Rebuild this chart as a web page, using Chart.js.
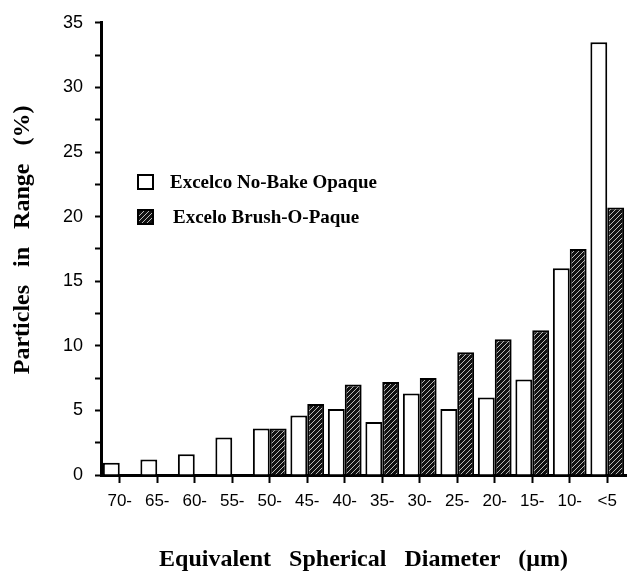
<!DOCTYPE html>
<html>
<head>
<meta charset="utf-8">
<script src="https://cdn.jsdelivr.net/npm/chart.js@4"></script>
<style>
  html, body { margin: 0; padding: 0; background: #fff; }
  #wrap { width: 627px; height: 575px; }
</style>
</head>
<body>
<div id="wrap"><canvas id="sizeChart" width="627" height="575"></canvas></div>
<script>
// size ranges (um), largest first
const categories = ['70-', '65-', '60-', '55-', '50-', '45-', '40-', '35-', '30-', '25-', '20-', '15-', '10-', '<5'];
// particles in range (%)
const noBakeOpaque = [0.95, 1.2, 1.6, 2.9, 3.6, 4.6, 5.1, 4.1, 6.3, 5.1, 6.0, 7.4, 16.0, 33.5];
const brushOPaque = [null, null, null, null, 3.6, 5.5, 7.0, 7.2, 7.5, 9.5, 10.5, 11.2, 17.5, 20.7];
const yTicks = [0, 5, 10, 15, 20, 25, 30, 35];

const serif = '"Liberation Serif", "Times New Roman", serif';
const sans = '"Liberation Sans", Arial, sans-serif';

// black fill with thin light diagonal hatch
function hatch() {
  const c = document.createElement('canvas');
  c.width = 5; c.height = 5;
  const g = c.getContext('2d');
  g.fillStyle = '#111';
  g.fillRect(0, 0, 5, 5);
  g.strokeStyle = '#cfcfcf';
  g.lineWidth = 0.9;
  g.beginPath();
  g.moveTo(-1, 6); g.lineTo(6, -1);
  g.stroke();
  return g.createPattern(c, 'repeat');
}
const hatchFill = hatch();

// legend sitting inside the plot
const boxLegend = {
  id: 'boxLegend',
  afterDraw(chart) {
    const ctx = chart.ctx;
    const rows = [
      { x: 138, y: 175, tx: 170 },
      { x: 138, y: 210, tx: 173 }
    ];
    ctx.save();
    chart.data.datasets.forEach((ds, i) => {
      const r = rows[i];
      ctx.fillStyle = ds.backgroundColor;
      ctx.fillRect(r.x, r.y, 15, 14);
      ctx.lineWidth = 2;
      ctx.strokeStyle = '#000';
      ctx.strokeRect(r.x, r.y, 15, 14);
      ctx.fillStyle = '#000';
      ctx.font = 'bold 19px ' + serif;
      ctx.textBaseline = 'middle';
      ctx.fillText(ds.label, r.tx, r.y + 8);
    });
    ctx.restore();
  }
};

new Chart(document.getElementById('sizeChart'), {
  type: 'bar',
  data: {
    labels: categories,
    datasets: [{
      label: 'Excelco No-Bake Opaque',
      data: noBakeOpaque,
      backgroundColor: '#ffffff',
      borderColor: '#000',
      borderWidth: 2
    }, {
      label: 'Excelo Brush-O-Paque',
      data: brushOPaque,
      backgroundColor: hatchFill,
      borderColor: '#000',
      borderWidth: 2
    }]
  },
  options: {
    responsive: false,
    animation: false,
    categoryPercentage: 0.9,
    barPercentage: 1.0,
    layout: { padding: { top: 20, right: 1, left: 0, bottom: 0 } },
    plugins: {
      legend: { display: false },
      tooltip: { enabled: false }
    },
    scales: {
      x: {
        afterFit: s => { s.height = 100; },
        grid: { offset: false, drawOnChartArea: false, tickLength: 8, tickWidth: 2, tickColor: '#000' },
        border: { color: '#000', width: 3 },
        ticks: { color: '#000', font: { family: sans, size: 17 }, padding: 8, maxRotation: 0, autoSkip: false },
        title: {
          display: true,
          text: 'Equivalent   Spherical   Diameter   (μm)',
          color: '#000',
          font: { family: serif, size: 24, weight: 'bold' },
          padding: { top: 0, bottom: 1 }
        }
      },
      y: {
        min: 0,
        max: 35,
        afterFit: s => { s.width = 101; },
        afterBuildTicks: s => {
          // minor ticks every 2.5, labels only on yTicks
          const t = [];
          for (let i = 0; i < yTicks.length; i++) {
            t.push({ value: yTicks[i] });
            if (i < yTicks.length - 1) t.push({ value: yTicks[i] + 2.5 });
          }
          s.ticks = t;
        },
        grid: { drawOnChartArea: false, tickLength: 6, tickWidth: 2, tickColor: '#000' },
        border: { color: '#000', width: 3 },
        ticks: {
          color: '#000',
          font: { family: sans, size: 18 },
          padding: 12,
          callback: v => (yTicks.includes(v) ? String(v) : '')
        },
        title: {
          display: true,
          text: '   Particles   in   Range   (%)',
          color: '#000',
          font: { family: serif, size: 24, weight: 'bold' },
          padding: { top: 8, bottom: 0 }
        }
      }
    }
  },
  plugins: [boxLegend]
});
</script>
</body>
</html>
